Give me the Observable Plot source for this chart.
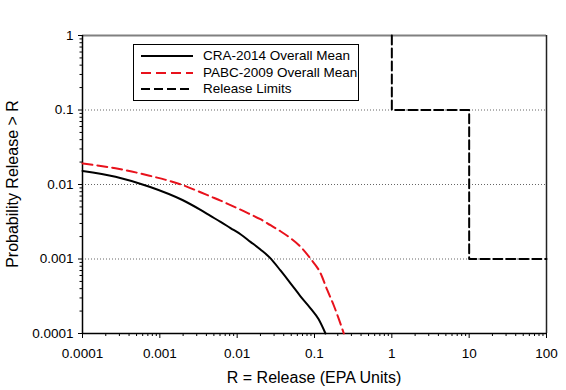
<!DOCTYPE html>
<html><head><meta charset="utf-8">
<script src="https://cdn.jsdelivr.net/npm/d3@7"></script>
<script src="https://cdn.jsdelivr.net/npm/@observablehq/plot@0.6"></script>
<style>
body{margin:0;background:#fff;}
#wrap{position:relative;width:566px;height:390px;font-family:"Liberation Sans",Arial,sans-serif;color:#000;}
.ttl{position:absolute;font-size:16px;white-space:nowrap;line-height:1;}
#legend{position:absolute;left:133px;top:44px;width:226px;height:57px;border:1.3px solid #000;box-sizing:border-box;background:#fff;}
.lg{position:absolute;left:0;top:0;}
.lt{position:absolute;left:69px;font-size:13.5px;white-space:nowrap;line-height:1;}
</style></head><body><div id="wrap"></div>
<script>
// CRA-2014 Overall Mean
const craX = [0.0001, 0.000267, 0.000735, 0.00196, 0.00336, 0.00452, 0.0061, 0.0082, 0.01104, 0.01486, 0.02, 0.027, 0.0363, 0.049, 0.0659, 0.0888, 0.1127, 0.1387];
const craY = [0.0152, 0.01273, 0.00934, 0.00619, 0.00456, 0.00379, 0.00315, 0.0026, 0.00215, 0.0017, 0.00134, 0.00102, 0.000701, 0.000472, 0.000316, 0.000218, 0.000156, 0.0001];
// PABC-2009 Overall Mean
const pabcX = [0.0001, 0.000267, 0.000735, 0.00196, 0.00336, 0.00452, 0.0061, 0.0082, 0.01104, 0.01486, 0.02, 0.027, 0.0363, 0.049, 0.0659, 0.0888, 0.1196, 0.146, 0.1787, 0.206, 0.2394];
const pabcY = [0.01914, 0.01649, 0.01313, 0.00985, 0.00788, 0.00692, 0.00608, 0.00529, 0.0046, 0.00397, 0.00342, 0.00284, 0.00236, 0.0019, 0.00146, 0.00101, 0.000645, 0.000384, 0.000234, 0.000157, 0.0001];
// Release Limits
const limX = [1, 1, 10, 10, 100];
const limY = [1, 0.1, 0.1, 0.001, 0.001];
// ticks
const xTicks = [0.0001, 0.001, 0.01, 0.1, 1, 10, 100];
const yTicks = [0.0001, 0.001, 0.01, 0.1, 1];
const xTickLabels = ["0.0001", "0.001", "0.01", "0.1", "1", "10", "100"];
const yTickLabels = ["0.0001", "0.001", "0.01", "0.1", "1"];
const gridY = [0.1, 0.01, 0.001];
const seriesNames = ["CRA-2014 Overall Mean", "PABC-2009 Overall Mean", "Release Limits"];
const xTitle = "R = Release (EPA Units)";
const yTitle = "Probability Release > R";

function minors(majors) {
  const out = [];
  for (let i = 0; i < majors.length - 1; i++) for (let k = 2; k <= 9; k++) out.push(majors[i] * k);
  return out;
}
const cra = craX.map((x, i) => ({x, y: craY[i]}));
const pabc = pabcX.map((x, i) => ({x, y: pabcY[i]}));
const lim = limX.map((x, i) => ({x, y: limY[i]}));
const fx = d => xTickLabels[xTicks.indexOf(d)];
const fy = d => yTickLabels[yTicks.indexOf(d)];

const chart = Plot.plot({
  width: 566, height: 390,
  marginLeft: 82, marginRight: 20, marginTop: 35, marginBottom: 57,
  style: {fontFamily: '"Liberation Sans", Arial, sans-serif', fontSize: "13.5px", color: "#000", background: "#fff", overflow: "visible"},
  x: {type: "log", domain: [0.0001, 100]},
  y: {type: "log", domain: [0.0001, 1]},
  marks: [
    Plot.ruleY(gridY, {stroke: "#666", strokeDasharray: "1,2", strokeWidth: 1}),
    Plot.axisX({ticks: xTicks, tickSize: 5, tickPadding: 10, tickFormat: fx, label: null, fontSize: 13.5}),
    Plot.axisX({ticks: minors(xTicks), tickSize: 3, tickFormat: () => "", label: null}),
    Plot.axisY({ticks: yTicks, tickSize: 4, tickPadding: 5, tickFormat: fy, label: null, fontSize: 13.5}),
    Plot.axisY({ticks: minors(yTicks), tickSize: 2.5, tickFormat: () => "", label: null}),
    Plot.ruleY([1], {stroke: "#808080", strokeWidth: 2}),
    Plot.ruleX([100], {stroke: "#222", strokeWidth: 1.5}),
    Plot.ruleX([0.0001], {stroke: "#000", strokeWidth: 1.5}),
    Plot.ruleY([0.0001], {stroke: "#000", strokeWidth: 1.5}),
    Plot.line(lim, {x: "x", y: "y", stroke: "#000", strokeWidth: 2, strokeDasharray: "9,4"}),
    Plot.line(pabc, {x: "x", y: "y", stroke: "#e8121c", strokeWidth: 2, strokeDasharray: "10,5", curve: "monotone-x"}),
    Plot.line(cra, {x: "x", y: "y", stroke: "#000", strokeWidth: 2, curve: "monotone-x"})
  ]
});
const wrap = document.getElementById("wrap");
wrap.appendChild(chart);

const xt = document.createElement("div");
xt.className = "ttl"; xt.textContent = xTitle;
xt.style.left = "314px"; xt.style.top = "370px"; xt.style.transform = "translateX(-50%)";
wrap.appendChild(xt);
const yt = document.createElement("div");
yt.className = "ttl"; yt.textContent = yTitle;
yt.style.left = "13px"; yt.style.top = "184px"; yt.style.transform = "translate(-50%,-50%) rotate(-90deg)";
wrap.appendChild(yt);

const lg = document.createElement("div");
lg.id = "legend";
const styles = [
  {stroke: "#000", dash: null},
  {stroke: "#e8121c", dash: "10,5"},
  {stroke: "#000", dash: "9,4"}
];
const rowY = [11, 28, 44];
let svg = '<svg class="lg" width="226" height="57">';
styles.forEach((s, i) => {
  svg += `<line x1="7" x2="59" y1="${rowY[i]}" y2="${rowY[i]}" stroke="${s.stroke}" stroke-width="2" ${s.dash ? `stroke-dasharray="${s.dash}"` : ""}/>`;
});
svg += '</svg>';
lg.innerHTML = svg;
seriesNames.forEach((n, i) => {
  const t = document.createElement("div");
  t.className = "lt"; t.textContent = n;
  t.style.top = (rowY[i] - 7) + "px";
  lg.appendChild(t);
});
wrap.appendChild(lg);
</script></body></html>
